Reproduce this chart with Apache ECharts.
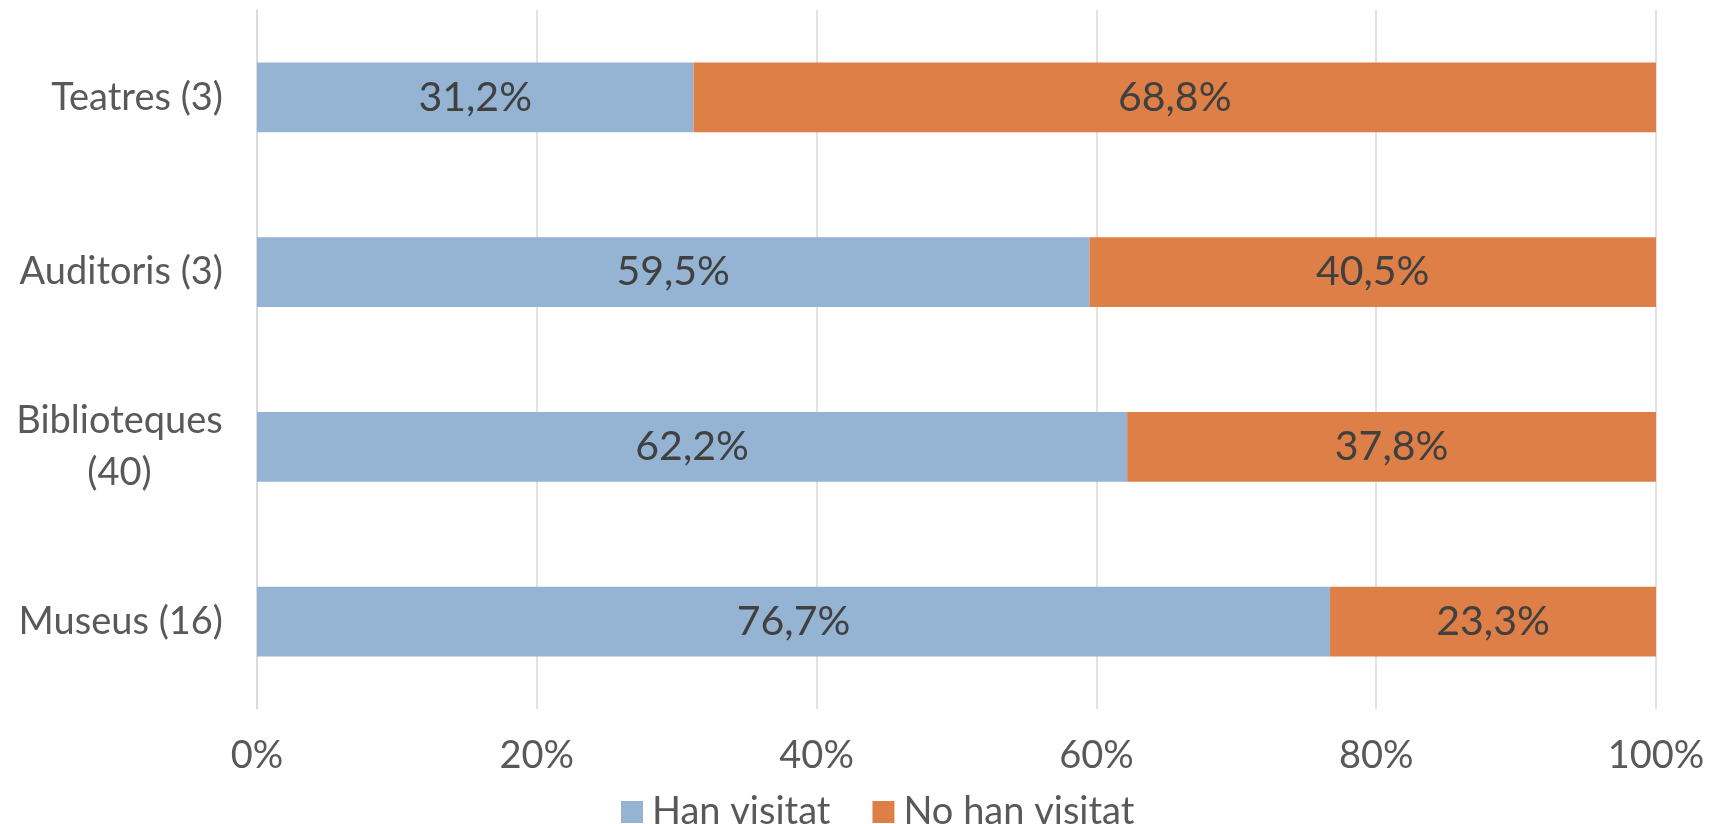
<!DOCTYPE html>
<html>
<head>
<meta charset="utf-8">
<script src="https://cdn.jsdelivr.net/npm/echarts@6/dist/echarts.min.js"></script>
<style>
  html, body { margin: 0; padding: 0; background: #fff; }
  #chart { width: 1714px; height: 824px; }
</style>
</head>
<body>
<div id="chart"></div>
<script>
// categories bottom -> top (category axis on y starts at the bottom)
var categories = ['Museus (16)', 'Biblioteques\n(40)', 'Auditoris (3)', 'Teatres (3)'];
var hanVisitat = [76.7, 62.2, 59.5, 31.2];
var noHanVisitat = [23.3, 37.8, 40.5, 68.8];
var seriesNames = ['Han visitat', 'No han visitat'];
var xTicks = [0, 20, 40, 60, 80, 100];

var fontFam = 'Lato, "Open Sans", sans-serif';
var textColor = '#595959';
var axisFont = 38;

function pct(v) {
  return v.toFixed(1).replace('.', ',') + '%';
}

// width of the widest line, so the two-line label stays right-aligned with the others
var ctx = document.createElement('canvas').getContext('2d');
ctx.font = axisFont + 'px ' + fontFam;
function lineW(s) { return Math.ceil(ctx.measureText(s).width); }

var chart = echarts.init(document.getElementById('chart'));
chart.setOption({
  animation: false,
  textStyle: { fontFamily: fontFam },
  grid: { left: 257, right: 58, top: 10, bottom: 115, containLabel: false },
  legend: {
    data: seriesNames,
    top: 788,
    left: 616,
    icon: 'rect',
    itemWidth: 22,
    itemHeight: 22,
    itemGap: 42,
    textStyle: { fontSize: axisFont, color: textColor, fontFamily: fontFam, padding: [0, 0, 0, 4] }
  },
  xAxis: {
    type: 'value',
    min: xTicks[0],
    max: xTicks[xTicks.length - 1],
    interval: 20,
    axisLine: { show: false },
    axisTick: { show: false },
    splitLine: { lineStyle: { color: '#d9d9d9', width: 1.5 } },
    axisLabel: {
      formatter: '{value}%',
      fontSize: axisFont,
      color: textColor,
      margin: 28
    }
  },
  yAxis: {
    type: 'category',
    data: categories,
    axisLine: { show: true, lineStyle: { color: '#d9d9d9', width: 1.5 } },
    axisTick: { show: false },
    axisLabel: {
      fontSize: axisFont,
      color: textColor,
      margin: 34,
      lineHeight: 52,
      formatter: function (v) {
        if (v.indexOf('\n') >= 0) {
          var parts = v.split('\n');
          var w = Math.max.apply(null, parts.map(lineW));
          return parts.map(function (s) { return '{c' + w + '|' + s + '}'; }).join('\n');
        }
        return v;
      },
      rich: (function () {
        var r = {};
        categories.forEach(function (c) {
          if (c.indexOf('\n') >= 0) {
            var w = Math.max.apply(null, c.split('\n').map(lineW));
            r['c' + w] = { width: w, align: 'center', fontSize: axisFont, color: textColor, lineHeight: 52, fontFamily: fontFam };
          }
        });
        return r;
      })()
    }
  },
  series: [
    {
      name: seriesNames[0],
      type: 'bar',
      stack: 'total',
      barWidth: '40%',
      itemStyle: { color: '#95b4d3' },
      label: {
        show: true,
        position: 'inside',
        fontSize: 41,
        color: '#404040',
        fontFamily: fontFam,
        formatter: function (p) { return pct(p.value); }
      },
      data: hanVisitat
    },
    {
      name: seriesNames[1],
      type: 'bar',
      stack: 'total',
      barWidth: '40%',
      itemStyle: { color: '#de7f48' },
      label: {
        show: true,
        position: 'inside',
        fontSize: 41,
        color: '#404040',
        fontFamily: fontFam,
        formatter: function (p) { return pct(p.value); }
      },
      data: noHanVisitat
    }
  ]
});
</script>
</body>
</html>
